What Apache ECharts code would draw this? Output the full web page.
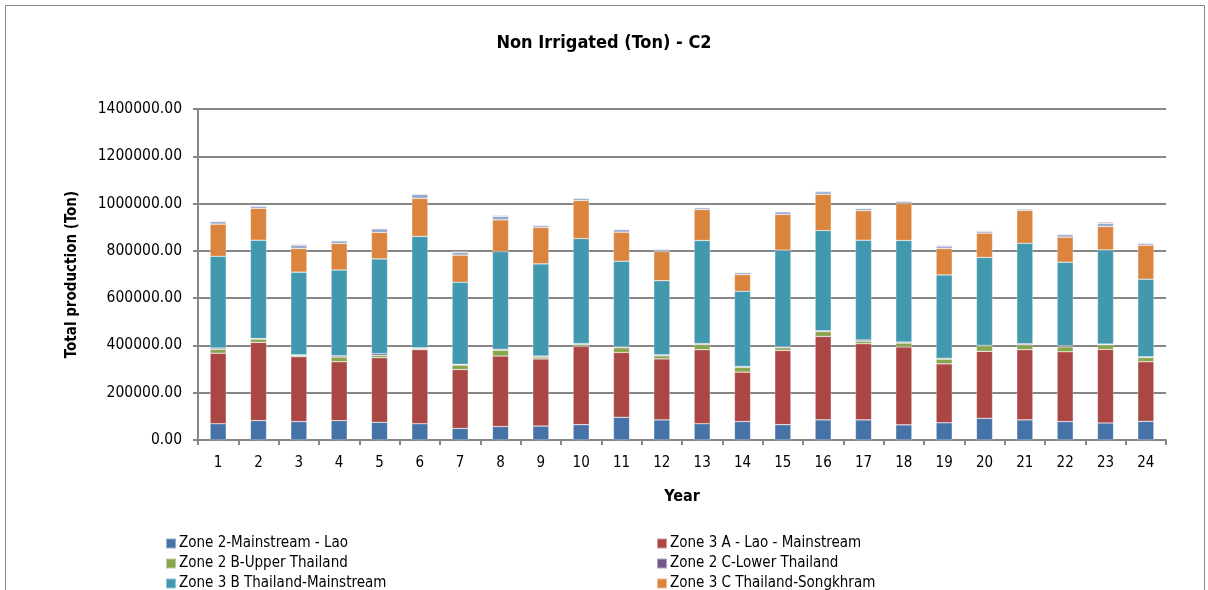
<!DOCTYPE html>
<html>
<head>
<meta charset="utf-8">
<script src="https://cdn.jsdelivr.net/npm/echarts@6/dist/echarts.min.js"></script>
<style>
html, body { margin: 0; padding: 0; background: #fff; }
#chart { width: 1208px; height: 590px; }
</style>
</head>
<body>
<div id="chart"></div>
<script>
// Years 1..24
const years = ['1','2','3','4','5','6','7','8','9','10','11','12','13','14','15','16','17','18','19','20','21','22','23','24'];

// Non-irrigated production per zone (Ton)
const zone2Lao        = [69000, 82000, 78000, 82000, 75000, 69000, 49000, 57000, 59000, 65000, 96000, 85000, 69000, 78000, 65000, 85000, 85000, 64000, 73000, 92000, 85000, 78000, 72000, 79000];
const zone3ALao       = [298000, 331000, 274000, 249000, 273000, 313000, 249000, 298000, 284000, 331000, 274000, 258000, 313000, 209000, 314000, 353000, 322000, 330000, 249000, 283000, 297000, 295000, 311000, 252000];
const zone2BUpper     = [17000, 14000, 6000, 20000, 10000, 5000, 19000, 25000, 8000, 8000, 20000, 13000, 22000, 21000, 11000, 21000, 11000, 16000, 20000, 24000, 21000, 21000, 20000, 18000];
const zone2CLower     = [5000, 2000, 2000, 5000, 7000, 3000, 3000, 4000, 4000, 4000, 4000, 4000, 4000, 3000, 4000, 3000, 5000, 4000, 4000, 1000, 4000, 5000, 3000, 3000];
const zone3BThai      = [388000, 416000, 350000, 363000, 401000, 471000, 347000, 413000, 390000, 444000, 362000, 314000, 436000, 318000, 409000, 424000, 422000, 430000, 352000, 372000, 425000, 353000, 398000, 328000];
const zone3CSongkhram = [136000, 135000, 100000, 112000, 112000, 161000, 115000, 134000, 154000, 161000, 123000, 123000, 131000, 71000, 151000, 153000, 125000, 157000, 112000, 103000, 139000, 106000, 99000, 144000];
const zone4Lao        = [11000, 9000, 14000, 11000, 15000, 17000, 12000, 15000, 8000, 9000, 11000, 7000, 7000, 8000, 11000, 11000, 9000, 7000, 10000, 8000, 6000, 10000, 13000, 8000];
const zone4Thai       = [3000, 3000, 4000, 3000, 3000, 3000, 3000, 4000, 3000, 3000, 3000, 4000, 3000, 3000, 3000, 4000, 3000, 4000, 4000, 3000, 2000, 4000, 6000, 3000];

const seriesDefs = [
  { name: 'Zone 2-Mainstream - Lao',      data: zone2Lao,        color: '#4572A7' },
  { name: 'Zone 3 A - Lao - Mainstream',  data: zone3ALao,       color: '#AA4643' },
  { name: 'Zone 2 B-Upper Thailand',      data: zone2BUpper,     color: '#89A54E' },
  { name: 'Zone 2 C-Lower Thailand',      data: zone2CLower,     color: '#71588F' },
  { name: 'Zone 3 B Thailand-Mainstream', data: zone3BThai,      color: '#4198AF' },
  { name: 'Zone 3 C Thailand-Songkhram',  data: zone3CSongkhram, color: '#DB843D' },
  { name: 'Zone 4 Lao',                   data: zone4Lao,        color: '#93A9CF' },
  { name: 'Zone 4 Thailand',              data: zone4Thai,       color: '#D19392' }
];

const FONT = '"DejaVu Sans Condensed", "Liberation Sans Narrow", "Open Sans", sans-serif';

// Legend: two columns, three rows (the last row sits at the bottom edge)
const legendSlots = [
  { name: 'Zone 2-Mainstream - Lao',      left: 165, top: 536 },
  { name: 'Zone 3 A - Lao - Mainstream',  left: 656, top: 536 },
  { name: 'Zone 2 B-Upper Thailand',      left: 165, top: 556 },
  { name: 'Zone 2 C-Lower Thailand',      left: 656, top: 556 },
  { name: 'Zone 3 B Thailand-Mainstream', left: 165, top: 576 },
  { name: 'Zone 3 C Thailand-Songkhram',  left: 656, top: 576 }
];

const chart = echarts.init(document.getElementById('chart'));

chart.setOption({
  animation: false,
  backgroundColor: '#fff',
  textStyle: { fontFamily: FONT, color: '#000' },
  title: {
    text: 'Non Irrigated (Ton) - C2',
    left: 'center',
    top: 29,
    textStyle: { fontFamily: FONT, fontSize: 18, fontWeight: 'bold', color: '#000' }
  },
  graphic: [{
    type: 'rect',
    shape: { x: 5.5, y: 5.5, width: 1199, height: 600 },
    style: { fill: 'none', stroke: '#868686', lineWidth: 1 },
    silent: true
  }],
  legend: legendSlots.map(s => ({
    left: s.left, top: s.top, padding: 0,
    itemWidth: 10, itemHeight: 10, icon: 'rect',
    textStyle: { fontFamily: FONT, fontSize: 15, color: '#000', padding: [0, 0, 0, -2] },
    data: [s.name]
  })),
  grid: { left: 198, right: 42, top: 109, bottom: 150 },
  xAxis: {
    type: 'category',
    data: years,
    name: 'Year',
    nameLocation: 'middle',
    nameGap: 49,
    nameTextStyle: { fontFamily: FONT, fontSize: 16, fontWeight: 'bold', color: '#000' },
    axisLine: { lineStyle: { color: '#868686', width: 2 } },
    axisTick: { show: true, length: 5, lineStyle: { color: '#868686', width: 2 } },
    axisLabel: { fontFamily: FONT, fontSize: 15, color: '#000', margin: 16 }
  },
  yAxis: {
    type: 'value',
    min: 0,
    max: 1400000,
    interval: 200000,
    name: 'Total production (Ton)',
    nameLocation: 'middle',
    nameGap: 118,
    nameTextStyle: { fontFamily: FONT, fontSize: 15, fontWeight: 'bold', color: '#000' },
    axisLine: { show: true, lineStyle: { color: '#868686', width: 2 } },
    axisTick: { show: true, length: 5, lineStyle: { color: '#868686', width: 2 } },
    splitLine: { lineStyle: { color: '#868686', width: 2 } },
    axisLabel: {
      fontFamily: FONT, fontSize: 15.5, color: '#000', margin: 16,
      formatter: v => v.toFixed(2)
    }
  },
  series: seriesDefs.map(s => ({
    name: s.name,
    type: 'bar',
    stack: 'total',
    barWidth: '40%',
    data: s.data,
    itemStyle: { color: s.color, borderColor: 'rgba(255,255,255,0.45)', borderWidth: 0.6 }
  }))
});
</script>
</body>
</html>
